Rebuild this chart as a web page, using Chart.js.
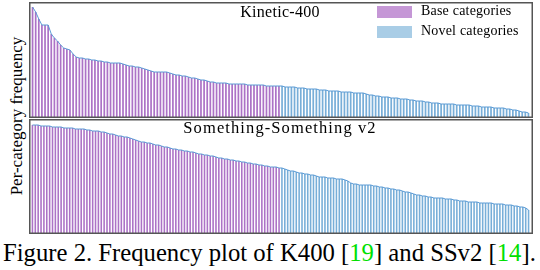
<!DOCTYPE html>
<html>
<head>
<meta charset="utf-8">
<script src="https://cdn.jsdelivr.net/npm/chart.js@4"></script>
<style>
  body { margin: 0; width: 540px; height: 270px; background: #fff; position: relative; overflow: hidden; }
  canvas { position: absolute; }
  .t { position: absolute; font-family: "Liberation Serif", "DejaVu Serif", serif; color: #000; white-space: nowrap; }
  .c { transform: translateX(-50%); }
  .sw { position: absolute; width: 35px; height: 12px; }
</style>
</head>
<body>
<canvas id="k400" width="504" height="116" style="left:29px;top:2px"></canvas>
<canvas id="ssv2" width="504" height="115" style="left:29px;top:119px"></canvas>

<div class="t c" style="left:280px;top:3px;font-size:16px;letter-spacing:0.3px;">Kinetic-400</div>
<div class="sw" style="left:377px;top:6px;background:#c597d6"></div>
<div class="sw" style="left:377px;top:26px;background:#a9cde6"></div>
<div class="t" style="left:421px;top:3px;font-size:14px;letter-spacing:0.2px;">Base categories</div>
<div class="t" style="left:421px;top:23px;font-size:14px;letter-spacing:0.2px;">Novel categories</div>
<div class="t c" style="left:280px;top:118px;font-size:16.5px;letter-spacing:1.1px;">Something-Something v2</div>
<div class="t" style="left:17px;top:116px;font-size:17px;transform:translate(-50%,-50%) rotate(-90deg);">Per-category frequency</div>
<div class="t" style="left:3px;top:239px;font-size:24.7px;">Figure 2. Frequency plot of K400 [<span style="color:#00e000">19</span>] and SSv2 [<span style="color:#00e000">14</span>].</div>

<script>
// per-category frequency, sorted
var k400Values = [
  110,105,98,92,92,92,83,79,76,72,
  69,68,67,63,60,59,59,58,58,57,
  57,56,56,55,55,54,54,54,54,53,
  52,51,51,50,50,49,48,47,46,45,
  45,45,45,45,44,43,42,42,41,41,
  40,39,39,38,37,37,36,35,35,34,
  34,34,34,33,33,33,33,33,33,32,
  32,32,32,32,32,31,31,31,31,31,
  31,30,30,30,30,29,29,29,28,28,
  28,28,27,27,27,26,26,26,26,25,
  25,25,25,24,24,24,24,23,22,22,
  21,21,20,20,20,19,19,19,18,18,
  18,17,17,16,16,16,15,15,14,14,
  14,13,13,13,13,13,12,12,12,12,
  12,11,11,11,10,10,10,10,9,9,
  9,9,8,8,7,7,6,5,5,4
];
var k400Base = 80;

var ssv2Values = [
  108,108,108,107,107,107,107,106,106,106,
  106,105,105,105,105,104,104,104,104,103,
  103,102,102,102,101,101,100,99,99,98,
  97,97,96,96,95,94,93,92,91,91,
  90,90,89,88,88,87,86,86,85,84,
  84,83,83,82,82,81,81,80,79,79,
  78,78,77,77,76,75,75,74,74,73,
  73,72,72,71,71,70,70,69,69,68,
  68,67,67,66,66,66,65,65,64,63,
  62,62,61,60,60,59,59,58,58,57,
  56,56,56,55,55,55,54,54,54,53,
  52,50,49,49,48,48,48,48,48,47,
  47,46,46,45,45,44,44,43,43,42,
  41,41,40,39,38,38,37,37,36,36,
  35,35,35,35,34,34,34,33,33,32,
  32,32,31,31,31,31,30,30,30,30,
  30,29,29,29,29,28,28,28,27,27,
  26,26,25,23
];
var ssv2Base = 87;

var baseColor = '#ac72c6';
var novelColor = '#78aed8';
var edgeColor = '#5b9bd5';

var frame = {
  id: 'frame',
  afterDraw: function (chart) {
    var c = chart.ctx;
    c.save();
    c.strokeStyle = '#555';
    c.lineWidth = 1.5;
    c.strokeRect(0.75, 0.75, chart.width - 1.5, chart.height - 1.5);
    c.restore();
  }
};

function makeChart(id, values, split, ymax) {
  var labels = values.map(function (v, i) { return i + 1; });
  var colors = values.map(function (v, i) { return i < split ? baseColor : novelColor; });
  return new Chart(document.getElementById(id).getContext('2d'), {
    type: 'bar',
    data: {
      labels: labels,
      datasets: [{
        type: 'line',
        data: values,
        borderColor: edgeColor,
        borderWidth: 1,
        pointRadius: 0,
        fill: false,
        order: 0
      }, {
        data: values,
        backgroundColor: colors,
        barPercentage: 0.55,
        categoryPercentage: 1,
        order: 1
      }]
    },
    options: {
      responsive: false,
      animation: false,
      layout: { padding: { left: 2, right: 3, top: 0, bottom: 1 } },
      plugins: { legend: { display: false }, tooltip: { enabled: false } },
      scales: {
        x: { display: false },
        y: { display: false, min: 0, max: ymax }
      }
    },
    plugins: [frame]
  });
}

makeChart('k400', k400Values, k400Base, 115);
makeChart('ssv2', ssv2Values, ssv2Base, 114);
</script>
</body>
</html>
